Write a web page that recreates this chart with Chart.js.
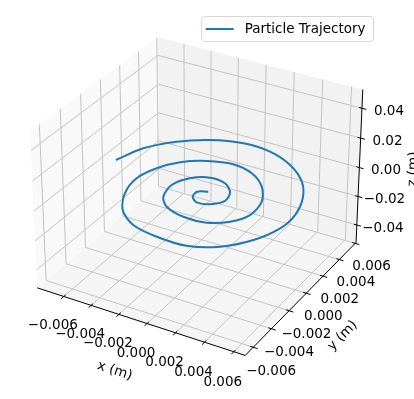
<!DOCTYPE html>
<html lang="en">
<head>
    <meta charset="UTF-8">
    <title>Particle Trajectory</title>
    <script src="https://cdn.jsdelivr.net/npm/chart.js"></script>
    <style>
        body { margin: 0; background: #fff; }
        #wrap { position: relative; width: 414px; height: 399px; }
    </style>
</head>
<body>
<div id="wrap"><canvas id="trajChart"></canvas></div>
<script>
    // trajectory (metres), it stays in the z = 0 plane
    const trajX = [-0.00702, -0.00632, -0.00491, -0.00317, -0.00109, 0.00092, 0.00284, 0.00446, 0.00546, 0.00599,
        0.00594, 0.00520, 0.00386, 0.00210, 0.00004, -0.00188, -0.00336, -0.00431, -0.00466, -0.00423,
        -0.00335, -0.00197, -0.00031, 0.00126, 0.00260, 0.00348, 0.00363, 0.00296, 0.00181, 0.00023,
        -0.00125, -0.00205, -0.00234, -0.00178, -0.00073, 0.00042, 0.00124, 0.00149, 0.00090, 0.00007,
        -0.00048, -0.00055, 0.00004];
    const trajY = [0.00009, 0.00201, 0.00362, 0.00474, 0.00535, 0.00524, 0.00445, 0.00312, 0.00154, -0.00024,
        -0.00185, -0.00359, -0.00505, -0.00583, -0.00583, -0.00543, -0.00439, -0.00281, -0.00109, 0.00042,
        0.00166, 0.00253, 0.00294, 0.00256, 0.00154, 0.00011, -0.00144, -0.00258, -0.00328, -0.00337,
        -0.00291, -0.00208, -0.00076, 0.00038, 0.00099, 0.00086, 0.00014, -0.00081, -0.00152, -0.00170,
        -0.00129, -0.00070, -0.00040];
    const trajZ = [0, 0, 0, 0, 0, 0, 0, 0, 0, 0,
        0, 0, 0, 0, 0, 0, 0, 0, 0, 0,
        0, 0, 0, 0, 0, 0, 0, 0, 0, 0,
        0, 0, 0, 0, 0, 0, 0, 0, 0, 0,
        0, 0, 0];
    const seriesLabel = 'Particle Trajectory';

    // axes
    const xLim = [-0.00796, 0.00677];
    const yLim = [-0.00687, 0.00611];
    const zLim = [-0.0524, 0.0524];
    const xTicks = [-0.006, -0.004, -0.002, 0, 0.002, 0.004, 0.006];
    const yTicks = [-0.006, -0.004, -0.002, 0, 0.002, 0.004, 0.006];
    const zTicks = [-0.04, -0.02, 0, 0.02, 0.04];
    const xTickLabels = ['\u22120.006', '\u22120.004', '\u22120.002', '0.000', '0.002', '0.004', '0.006'];
    const yTickLabels = ['\u22120.006', '\u22120.004', '\u22120.002', '0.000', '0.002', '0.004', '0.006'];
    const zTickLabels = ['\u22120.04', '\u22120.02', '0.00', '0.02', '0.04'];
    const xTitle = 'x (m)', yTitle = 'y (m)', zTitle = 'z (m)';

    // view (matplotlib default 3d camera)
    const elev = 30 * Math.PI / 180, azim = -60 * Math.PI / 180, dist = 10;
    const aspect = [4, 4, 3];
    const aspectNorm = Math.hypot(...aspect);
    const box = aspect.map(a => a * 1.8294640721620434 / aspectNorm);
    const W = [Math.cos(elev) * Math.cos(azim), Math.cos(elev) * Math.sin(azim), Math.sin(elev)];
    let U = [-W[1], W[0], 0];
    const uLen = Math.hypot(...U);
    U = U.map(c => c / uLen);
    const V = [W[1] * U[2] - W[2] * U[1], W[2] * U[0] - W[0] * U[2], W[0] * U[1] - W[1] * U[0]];
    const dot = (a, b) => a[0] * b[0] + a[1] * b[1] + a[2] * b[2];

    const span = lim => lim[1] - lim[0];
    function project(x, y, z) {
        const q = [
            ((x - xLim[0]) / span(xLim) - 0.5) * box[0],
            ((y - yLim[0]) / span(yLim) - 0.5) * box[1],
            ((z - zLim[0]) / span(zLim) - 0.5) * box[2]
        ];
        const d = dist - dot(W, q);
        return {x: dot(U, q) / d, y: dot(V, q) / d};
    }

    // where the projection centre sits on the 414x399 canvas
    const pxPerUnit = 2085, centreX = 199.5, centreY = 189;
    const canvasW = 414, canvasH = 399;

    const [x0, x1] = xLim, [y0, y1] = yLim, [z0, z1] = zLim;

    function polyline(pts, color, width, order) {
        return {
            data: pts.map(p => project(p[0], p[1], p[2])),
            borderColor: color, borderWidth: width, pointRadius: 0,
            tension: 0, fill: false, order: order
        };
    }
    function pane(pts, color) {
        const ds = polyline(pts.concat([pts[0]]), color, 0, 5);
        ds.fill = 'shape';
        ds.backgroundColor = color;
        return ds;
    }

    const datasets = [];
    datasets.push({
        label: seriesLabel,
        data: trajX.map((x, i) => project(x, trajY[i], trajZ[i])),
        borderColor: '#1f77b4', borderWidth: 2, pointRadius: 0,
        tension: 0.3, fill: false, order: 0
    });

    // panes: x = min, y = max, z = min
    datasets.push(pane([[x0, y0, z0], [x0, y1, z0], [x0, y1, z1], [x0, y0, z1]], 'rgb(249,249,249)'));
    datasets.push(pane([[x0, y1, z0], [x1, y1, z0], [x1, y1, z1], [x0, y1, z1]], 'rgb(242,242,242)'));
    datasets.push(pane([[x0, y0, z0], [x1, y0, z0], [x1, y1, z0], [x0, y1, z0]], 'rgb(245,245,245)'));

    // grid
    const gridColor = '#c4c4c4';
    xTicks.forEach(t => datasets.push(polyline([[t, y0, z0], [t, y1, z0], [t, y1, z1]], gridColor, 1, 3)));
    yTicks.forEach(t => datasets.push(polyline([[x1, t, z0], [x0, t, z0], [x0, t, z1]], gridColor, 1, 3)));
    zTicks.forEach(t => datasets.push(polyline([[x0, y0, t], [x0, y1, t], [x1, y1, t]], gridColor, 1, 3)));

    // axis lines and tick marks
    datasets.push(polyline([[x0, y0, z0], [x1, y0, z0]], '#000', 1, 1));
    datasets.push(polyline([[x1, y0, z0], [x1, y1, z0]], '#000', 1, 1));
    datasets.push(polyline([[x1, y1, z0], [x1, y1, z1]], '#000', 1, 1));
    const tOut = 1 / 50, tIn = 1 / 70;
    xTicks.forEach(t => datasets.push(polyline([[t, y0 - tOut * span(yLim), z0], [t, y0 + tIn * span(yLim), z0]], '#000', 1, 1)));
    yTicks.forEach(t => datasets.push(polyline([[x1 + tOut * span(xLim), t, z0], [x1 - tIn * span(xLim), t, z0]], '#000', 1, 1)));
    zTicks.forEach(t => datasets.push(polyline([[x1 + tOut * span(xLim), y1, t], [x1 - tIn * span(xLim), y1, t]], '#000', 1, 1)));

    const FONT = '13.5px "DejaVu Sans"';

    const textPlugin = {
        id: 'axes3dText',
        afterDatasetsDraw(chart) {
            const ctx = chart.ctx;
            const sx = chart.scales.x, sy = chart.scales.y;
            const toPx = p3 => {
                const p = project(p3[0], p3[1], p3[2]);
                return [sx.getPixelForValue(p.x), sy.getPixelForValue(p.y)];
            };
            const angleOf = (a, b) => {
                const pa = toPx(a), pb = toPx(b);
                let ang = Math.atan2(pb[1] - pa[1], pb[0] - pa[0]);
                if (ang > Math.PI / 2) ang -= Math.PI;
                if (ang <= -Math.PI / 2) ang += Math.PI;
                return ang;
            };
            const put = (p3, text, ang) => {
                const p = toPx(p3);
                ctx.save();
                ctx.translate(p[0], p[1]);
                ctx.rotate(ang || 0);
                ctx.fillText(text, 0, 0);
                ctx.restore();
            };

            ctx.save();
            ctx.font = FONT;
            ctx.fillStyle = '#000';
            ctx.textAlign = 'center';
            ctx.textBaseline = 'middle';

            xTicks.forEach((t, i) => put([t, y0 - 0.0888 * span(yLim), z0 - 0.1263 * span(zLim)], xTickLabels[i]));
            yTicks.forEach((t, i) => put([x1 + 0.0835 * span(xLim), t, z0 - 0.1208 * span(zLim)], yTickLabels[i]));
            zTicks.forEach((t, i) => put([x1 + 0.1095 * span(xLim), y1 + 0.0335 * span(yLim), t], zTickLabels[i]));

            const xm = (x0 + x1) / 2, ym = (y0 + y1) / 2, zm = (z0 + z1) / 2;
            put([xm, y0 - 0.19 * span(yLim), z0 - 0.18 * span(zLim)], xTitle, angleOf([x0, y0, z0], [x1, y0, z0]));
            put([x1 + 0.19 * span(xLim), ym, z0 - 0.1775 * span(zLim)], yTitle, angleOf([x1, y0, z0], [x1, y1, z0]));
            put([x1 + 0.205 * span(xLim), y1 + 0.103 * span(yLim), zm], zTitle, angleOf([x1, y1, z0], [x1, y1, z1]));

            // legend, upper right
            const handle = 28, gap = 11, pad = 6, boxH = 25;
            const textW = ctx.measureText(seriesLabel).width;
            const boxW = pad + handle + gap + textW + pad;
            const right = 373.5, top = 16.5;
            const left = right - boxW, r = 3;
            ctx.beginPath();
            ctx.moveTo(left + r, top);
            ctx.arcTo(right, top, right, top + boxH, r);
            ctx.arcTo(right, top + boxH, left, top + boxH, r);
            ctx.arcTo(left, top + boxH, left, top, r);
            ctx.arcTo(left, top, right, top, r);
            ctx.closePath();
            ctx.fillStyle = 'rgba(255,255,255,0.8)';
            ctx.fill();
            ctx.strokeStyle = '#d6d6d6';
            ctx.lineWidth = 1;
            ctx.stroke();
            const midY = top + boxH / 2;
            ctx.beginPath();
            ctx.moveTo(left + pad - 2, midY);
            ctx.lineTo(left + pad - 2 + handle, midY);
            ctx.strokeStyle = '#1f77b4';
            ctx.lineWidth = 2;
            ctx.stroke();
            ctx.fillStyle = '#000';
            ctx.textAlign = 'left';
            ctx.fillText(seriesLabel, left + pad + handle + gap - 2, midY);
            ctx.restore();
        }
    };

    new Chart(document.getElementById('trajChart'), {
        type: 'line',
        data: {datasets: datasets},
        options: {
            responsive: true,
            maintainAspectRatio: false,
            animation: false,
            events: [],
            layout: {padding: 0},
            plugins: {
                legend: {display: false},
                tooltip: {enabled: false}
            },
            scales: {
                x: {
                    type: 'linear', display: false, bounds: 'data',
                    min: -centreX / pxPerUnit, max: (canvasW - centreX) / pxPerUnit
                },
                y: {
                    type: 'linear', display: false, bounds: 'data',
                    min: (centreY - canvasH) / pxPerUnit, max: centreY / pxPerUnit
                }
            }
        },
        plugins: [textPlugin]
    });
</script>
</body>
</html>
